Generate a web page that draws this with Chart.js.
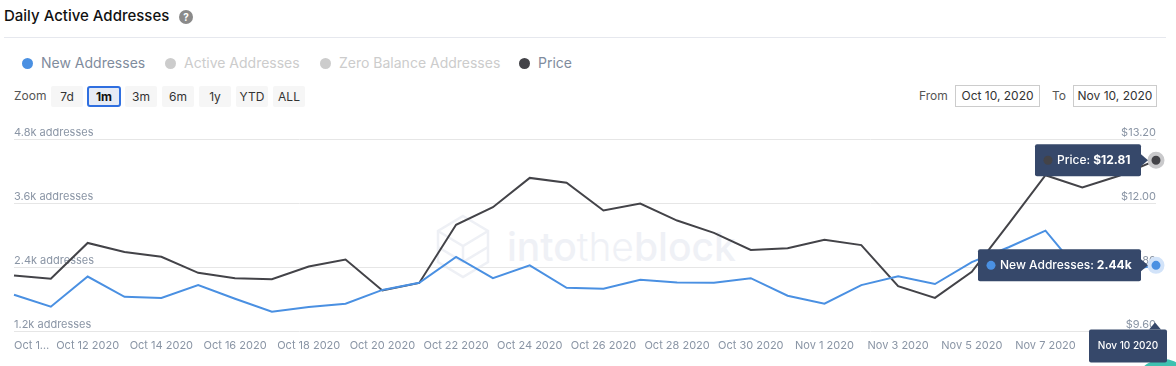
<!DOCTYPE html>
<html><head><meta charset="utf-8">
<script src="https://cdn.jsdelivr.net/npm/chart.js@4"></script>
<style>
html,body{margin:0;padding:0;background:#fff;width:1176px;height:366px;overflow:hidden;font-family:Inter,"Noto Sans",sans-serif}
.a{position:absolute;white-space:nowrap}
#title{left:4px;top:7px;font-size:15px;font-weight:500;color:#111;line-height:18px}
#help{left:179px;top:10px;width:14px;height:14px;border-radius:50%;background:#8a8a8a;color:#fff;font-size:10px;font-weight:700;text-align:center;line-height:14px}
#rule{left:4px;top:37px;width:1162px;height:1px;background:#e6e8ee}
.lg{top:54px;font-size:14px;line-height:18px}
.dot{width:11px;height:11px;border-radius:50%;top:58px}
.btn{top:86px;height:21px;background:#f6f6f6;color:#333;font-size:12px;line-height:21px;text-align:center;border-radius:2px}
#on{background:#e6ebf5;border:2px solid #2f6fe0;box-sizing:border-box;line-height:18px;font-weight:700;color:#111;border-radius:3px}
.lb{top:88px;font-size:12px;line-height:16px;color:#555}
.inp{top:85px;height:22px;box-sizing:border-box;border:1px solid #ccc;font-size:12px;line-height:20px;color:#333;text-align:center}
#wm{left:0;top:0}
#cv{position:absolute;left:0;top:0}
#teal{left:1134px;top:359px;width:58px;height:58px;border-radius:50%;background:#3fc1b0}
</style></head><body>
<div class="a" id="title">Daily Active Addresses</div>
<div class="a" id="help">?</div>
<div class="a" id="rule"></div>
<div class="a dot" style="left:22px;background:#4a90e2"></div><div class="a lg" style="left:41px;color:#7f8c9d">New Addresses</div>
<div class="a dot" style="left:165px;background:#ccc"></div><div class="a lg" style="left:184px;color:#ccc">Active Addresses</div>
<div class="a dot" style="left:320px;background:#ccc"></div><div class="a lg" style="left:339px;color:#ccc">Zero Balance Addresses</div>
<div class="a dot" style="left:519px;background:#434348"></div><div class="a lg" style="left:538px;color:#7f8c9d">Price</div>
<div class="a lb" style="left:14px">Zoom</div>
<div class="a btn" style="left:51px;width:32px">7d</div>
<div class="a btn" id="on" style="left:87px;width:34px">1m</div>
<div class="a btn" style="left:125px;width:32px">3m</div>
<div class="a btn" style="left:162px;width:32px">6m</div>
<div class="a btn" style="left:199px;width:32px">1y</div>
<div class="a btn" style="left:236px;width:32px">YTD</div>
<div class="a btn" style="left:273px;width:32px">ALL</div>
<div class="a lb" style="left:919px">From</div>
<div class="a inp" style="left:955px;width:85px">Oct 10, 2020</div>
<div class="a lb" style="left:1052px">To</div>
<div class="a inp" style="left:1073px;width:84px">Nov 10, 2020</div>
<svg class="a" id="wm" width="1176" height="366">
<g fill="none" stroke="#eef0f5" stroke-width="2.5">
<path d="M463 216 L488 231 L488 262 L463 277 L438 262 L438 231 Z"/>
<path d="M438 231 L463 246 L488 231 M463 246 L463 262 M438 247 L463 262 L488 247"/>
</g>
<text x="507" y="261" font-family="Inter,sans-serif" font-size="39" font-weight="500" fill="#eff1f6">into<tspan font-weight="300">the</tspan><tspan font-weight="500">block</tspan></text>
</svg>
<div class="a" id="teal"></div>
<canvas id="cv" width="1176" height="366"></canvas>
<script>
const dates=["Oct 10 2020","Oct 11 2020","Oct 12 2020","Oct 13 2020","Oct 14 2020","Oct 15 2020","Oct 16 2020","Oct 17 2020","Oct 18 2020","Oct 19 2020","Oct 20 2020","Oct 21 2020","Oct 22 2020","Oct 23 2020","Oct 24 2020","Oct 25 2020","Oct 26 2020","Oct 27 2020","Oct 28 2020","Oct 29 2020","Oct 30 2020","Oct 31 2020","Nov 1 2020","Nov 2 2020","Nov 3 2020","Nov 4 2020","Nov 5 2020","Nov 6 2020","Nov 7 2020","Nov 8 2020","Nov 9 2020","Nov 10 2020"];
const xTickLabels={"Oct 10 2020":"Oct 1…","Oct 12 2020":"Oct 12 2020","Oct 14 2020":"Oct 14 2020","Oct 16 2020":"Oct 16 2020","Oct 18 2020":"Oct 18 2020","Oct 20 2020":"Oct 20 2020","Oct 22 2020":"Oct 22 2020","Oct 24 2020":"Oct 24 2020","Oct 26 2020":"Oct 26 2020","Oct 28 2020":"Oct 28 2020","Oct 30 2020":"Oct 30 2020","Nov 1 2020":"Nov 1 2020","Nov 3 2020":"Nov 3 2020","Nov 5 2020":"Nov 5 2020","Nov 7 2020":"Nov 7 2020"};
const newAddresses=[1.89,1.665,2.23,1.85,1.83,2.07,1.815,1.57,1.66,1.72,1.98,2.115,2.60,2.20,2.44,2.02,2.00,2.17,2.12,2.115,2.20,1.87,1.72,2.07,2.235,2.09,2.50,2.78,3.09,2.26,2.32,2.44];
const price=[10.65,10.59,11.26,11.09,11.00,10.70,10.60,10.58,10.82,10.95,10.37,10.51,11.60,11.93,12.48,12.39,11.87,12.00,11.68,11.45,11.13,11.16,11.32,11.22,10.45,10.23,10.72,11.62,12.53,12.30,12.52,12.81];
const leftTicks=[1.2,2.4,3.6,4.8];
const rightTicks=[9.6,10.8,12.0,13.2];
const last=dates.length-1;
const NAVY="#36486a";
const FONT="Inter, 'Noto Sans', sans-serif";
function rr(c,x,y,w,h){c.beginPath();c.roundRect(x,y,w,h,2);c.fill();}
const tips={id:"tips",afterDraw(ch){
  const c=ch.ctx,xs=ch.scales.x,px=xs.getPixelForValue(last),yl=ch.scales.y,yr=ch.scales.y1;
  function box(x0,x1,py,color,label,val){
    const h=32,top=py-h/2;
    c.fillStyle=NAVY;rr(c,x0,top,x1-x0,h);
    c.beginPath();c.moveTo(x1,py-6);c.lineTo(x1+7,py);c.lineTo(x1,py+6);c.closePath();c.fill();
    c.fillStyle=color;c.beginPath();c.arc(x0+13,py,4.5,0,7);c.fill();
    c.textBaseline="middle";c.textAlign="left";c.fillStyle="#fff";
    c.font="500 12px "+FONT;c.fillText(label,x0+22,py);
    const w=c.measureText(label).width;
    c.font="700 12px "+FONT;c.fillText(val,x0+22+w+3,py);
  }
  c.save();
  box(1035,1141,yr.getPixelForValue(price[last]),"#434348","Price:","$"+price[last].toFixed(2));
  box(978,1141,yl.getPixelForValue(newAddresses[last]),"#4a90e2","New Addresses:",newAddresses[last].toFixed(2)+"k");
  const by=329.5,bx0=1089,bx1=1167;
  c.fillStyle=NAVY;rr(c,bx0,by,bx1-bx0,33);
  c.beginPath();c.moveTo(px-7,by);c.lineTo(px-1,by-7);c.lineTo(px+5,by);c.closePath();c.fill();
  c.fillStyle="#fff";c.textAlign="center";c.textBaseline="middle";c.font="500 10px "+FONT;
  c.fillText(dates[last],(bx0+bx1)/2,by+16.5);
  c.restore();
}};
new Chart(document.getElementById("cv"),{
  type:"line",
  data:{labels:dates,datasets:[
    {label:"New Addresses",data:newAddresses,yAxisID:"y",borderColor:"#4a90e2",borderWidth:2,tension:0,clip:false,
     pointRadius:ctx=>ctx.dataIndex===last?6.5:0,pointBackgroundColor:"#4a90e2",pointBorderColor:"#d2e3f9",pointBorderWidth:4},
    {label:"Price",data:price,yAxisID:"y1",borderColor:"#434348",borderWidth:2,tension:0,clip:false,
     pointRadius:ctx=>ctx.dataIndex===last?6.5:0,pointBackgroundColor:"#434348",pointBorderColor:"#c9c9cb",pointBorderWidth:4}
  ]},
  options:{
    responsive:false,animation:false,
    layout:{padding:{left:14,right:20,top:139.5,bottom:0}},
    plugins:{legend:{display:false},tooltip:{enabled:false},title:{display:false}},
    scales:{
      x:{type:"category",offset:false,grid:{display:false},border:{display:false},
        afterFit:s=>{s.height=34.5;},
        ticks:{autoSkip:false,maxRotation:0,minRotation:0,align:"inner",padding:0,color:"#8a95a5",font:{family:FONT,size:11},
          callback(v,i){return xTickLabels[dates[i]]||"";}}},
      y:{position:"left",min:1.2,max:4.8,grid:{color:"#e6e6e6",drawTicks:false},border:{display:false},
        afterBuildTicks:s=>{s.ticks=leftTicks.map(v=>({value:v}));},
        afterFit:s=>{s.width=0;},
        ticks:{mirror:true,padding:0,labelOffset:-6.5,color:"#8a95a5",font:{family:FONT,size:11},callback:v=>v.toFixed(1)+"k addresses"}},
      y1:{position:"right",min:9.6,max:13.2,grid:{display:false},border:{display:false},
        afterBuildTicks:s=>{s.ticks=rightTicks.map(v=>({value:v}));},
        afterFit:s=>{s.width=0;},
        ticks:{mirror:true,padding:0,labelOffset:-6.5,color:"#8a95a5",font:{family:FONT,size:11},callback:v=>"$"+v.toFixed(2)}}
    }
  },
  plugins:[tips]
});
</script>
</body></html>
